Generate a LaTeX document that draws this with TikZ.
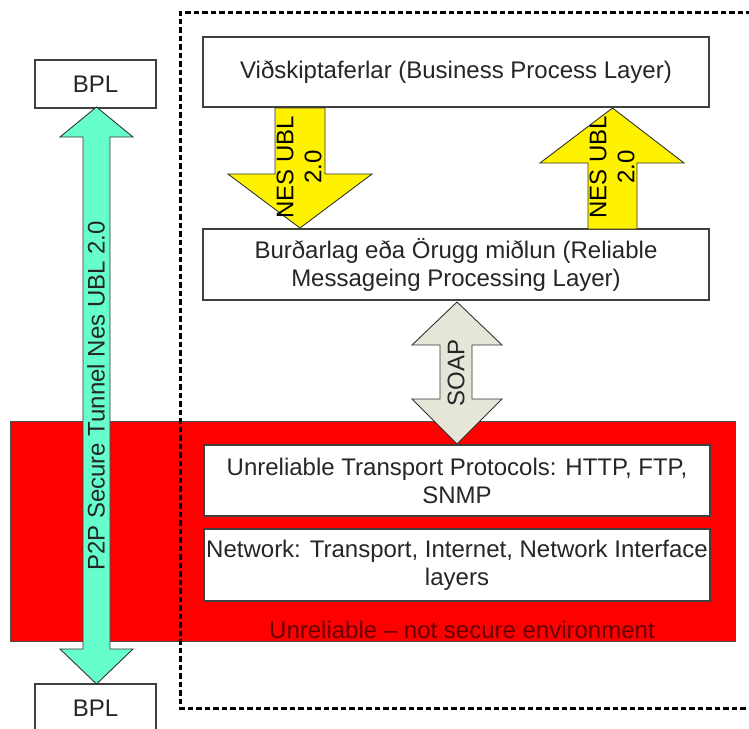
\documentclass[tikz,border=0pt]{standalone}
\usepackage{fontspec}
\setmainfont{Liberation Sans}
\definecolor{tunnelgreen}{RGB}{102,255,204}
\definecolor{soapgray}{RGB}{230,230,216}
\definecolor{envred}{RGB}{255,0,0}
\definecolor{darkredtext}{RGB}{100,0,0}
\begin{document}
\begin{tikzpicture}[x=1pt,y=-1pt,
  txt/.style={font=\fontsize{24}{28}\selectfont, text=black!85, align=center},
  layerbox/.style={draw=black!75, line width=1.3pt, fill=white, inner sep=0pt, txt},
  blockarrow/.style={draw=black!80, line width=0.9pt},
  frame/.style={draw=black, line width=3pt, dash pattern=on 5.5pt off 3pt}
]
\useasboundingbox (0,0) rectangle (749,728);

% unreliable environment
\node[draw=black!70, line width=1pt, fill=envred, minimum width=725pt, minimum height=220pt, inner sep=0pt] (env) at (372.5,531) {};
\node[font=\fontsize{24}{28}\selectfont, text=darkredtext] (envlbl) at (462,630) {Unreliable – not secure environment};

% dashed frame
\coordinate (fr1) at (760,12);
\coordinate (fr2) at (180,12);
\coordinate (fr3) at (180,708);
\coordinate (fr4) at (760,708);
\draw[frame] (fr1) -- (fr2) -- (fr3) -- (fr4);

% layer boxes
\node[layerbox, minimum width=506pt, minimum height=70pt] (bpl) at (456,72) {Viðskiptaferlar (Business Process Layer)};
\node[layerbox, minimum width=506pt, minimum height=71pt] (rml) at (456,264.5) {Burðarlag eða Örugg miðlun (Reliable\\Messageing Processing Layer)};
\node[layerbox, minimum width=506pt, minimum height=71pt] (utp) at (457,480.5) {Unreliable Transport Protocols: HTTP, FTP,\\SNMP};
\node[layerbox, minimum width=506pt, minimum height=72pt] (net) at (457,565) {Network: Transport, Internet, Network Interface\\layers};

% BPL boxes
\node[layerbox, minimum width=121pt, minimum height=48pt] (bpltop) at (95.5,84) {BPL};
\node[layerbox, minimum width=121pt, minimum height=48pt] (bplbot) at (95.5,708) {BPL};

% green tunnel double arrow
\draw[blockarrow, fill=tunnelgreen] (96.5,107) -- (133,137) -- (110,137) -- (110,649) -- (133,649) -- (96.5,684) -- (60,649) -- (83,649) -- (83,137) -- (60,137) -- cycle;
\node[txt, rotate=90] (tunnel) at (96,396) {P2P Secure Tunnel Nes UBL 2.0};

% down yellow arrow
\draw[blockarrow, fill=yellow] (275,108) -- (325,108) -- (325,174) -- (372,174) -- (300,228) -- (228,174) -- (275,174) -- cycle;
\node[txt, text=black, rotate=90] (downlbl) at (299,167) {NES UBL\\2.0};

% up yellow arrow
\draw[blockarrow, fill=yellow] (588,229) -- (637,229) -- (637,163) -- (684,163) -- (612.5,108) -- (540,163) -- (588,163) -- cycle;
\node[txt, text=black, rotate=90] (uplbl) at (612,167) {NES UBL\\2.0};

% SOAP double arrow
\draw[blockarrow, fill=soapgray] (457,302) -- (502,345) -- (472,345) -- (472,399) -- (502,399) -- (457,444) -- (412,399) -- (440,399) -- (440,345) -- (412,345) -- cycle;
\node[txt, rotate=90] (soap) at (456,373) {SOAP};
\end{tikzpicture}
\end{document}
